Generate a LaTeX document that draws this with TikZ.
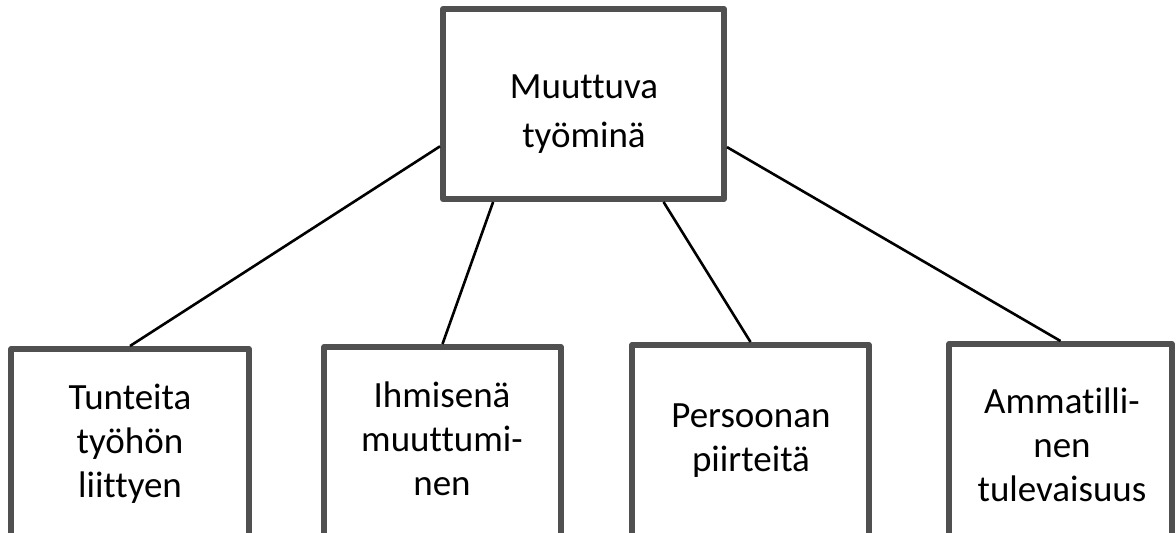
\documentclass[tikz,border=0pt]{standalone}
\usepackage{fontspec}
\setmainfont[Ligatures=NoCommon]{Carlito}
\usetikzlibrary{calc}
\definecolor{boxgray}{RGB}{80,80,80}
\tikzset{
  frame/.style={draw=boxgray, line width=#1, fill=white, rectangle, inner sep=0pt,
    line join=round},
  toplabel/.style={anchor=base, inner sep=0pt, font=\fontsize{37}{49}\selectfont},
  label36/.style={anchor=base, inner sep=0pt, font=\fontsize{37}{44}\selectfont},
  link/.style={draw=black, line width=2.6pt}
}
\newcommand{\lines}[1]{\begin{tabular}[t]{@{}c@{}}#1\end{tabular}}
\begin{document}
\begin{tikzpicture}[x=1pt, y=-1pt]
  \useasboundingbox (0,0) rectangle (1176,533);
  \clip (0,0) rectangle (1176,533);

  % main box
  \node[frame=6pt, minimum width=281pt, minimum height=190pt] (top) at (583.5,104) {};
  \node[toplabel] (toptext) at (584,98) {\lines{Muuttuva\\työminä}};

  % lower boxes (they run past the lower edge)
  \node[frame=5.5pt, minimum width=238pt, minimum height=240pt, anchor=north] (b1) at (130,346) {};
  \node[frame=5.5pt, minimum width=237pt, minimum height=240pt, anchor=north] (b2) at (442.5,344) {};
  \node[frame=5.5pt, minimum width=237pt, minimum height=240pt, anchor=north] (b3) at (750.5,342) {};
  \node[frame=5.5pt, minimum width=223pt, minimum height=240pt, anchor=north] (b4) at (1060.5,341) {};

  \node[label36] (t1) at (130,409) {\lines{Tunteita\\työhön\\liittyen}};
  \node[label36] (t2) at (442,407) {\lines{Ihmisenä\\muuttumi-\\nen}};
  \node[label36] (t3) at (751,427) {\lines{Persoonan\\piirteitä}};
  \node[label36] (t4) at (1062,413) {\lines{Ammatilli-\\nen\\tulevaisuus}};

  % connectors
  \coordinate (c1) at ($(top.north west)!0.716!(top.south west)$);
  \coordinate (c2) at ($(top.south west)!0.185!(top.south east)$);
  \coordinate (c3) at ($(top.south west)!0.779!(top.south east)$);
  \coordinate (c4) at ($(top.north east)!0.72!(top.south east)$);
  \draw[link] (c1) -- (b1.north);
  \draw[link] (c2) -- (b2.north);
  \draw[link] (c3) -- (b3.north);
  \draw[link] (c4) -- (b4.north);
\end{tikzpicture}
\end{document}
